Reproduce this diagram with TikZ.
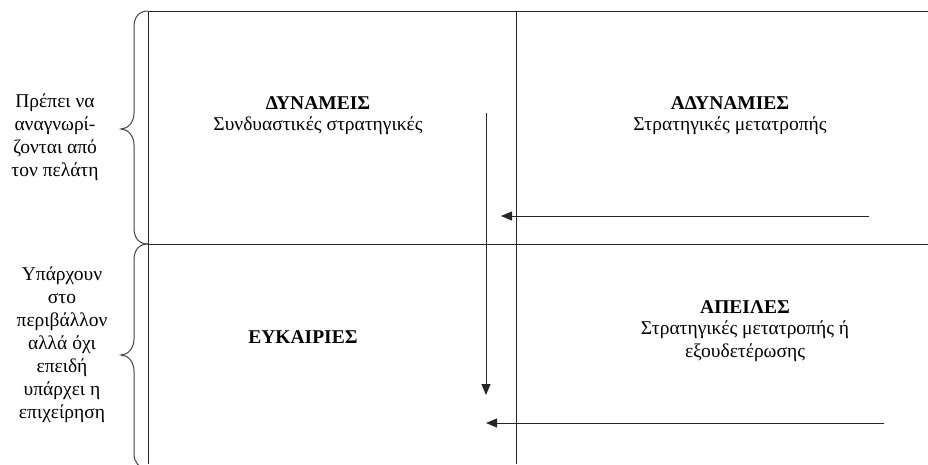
\documentclass[tikz,border=0pt]{standalone}
\usepackage{fontspec}
\setmainfont{Liberation Serif}
\usetikzlibrary{arrows.meta}
\begin{document}
\begin{tikzpicture}[x=1pt,y=-1pt,
  gridline/.style={line width=1pt,draw=black!85},
  bracepath/.style={line width=1pt,draw=black!75},
  flowarrow/.style={line width=1pt,draw=black!85,-{Triangle[length=11pt,width=9pt]}},
  head/.style={font=\fontsize{19.5}{23}\selectfont\bfseries,align=center,inner sep=0pt},
  body/.style={font=\fontsize{19.5}{23}\selectfont,align=center,inner sep=0pt},
  side/.style={font=\fontsize{19.5}{23}\selectfont,align=center,inner sep=0pt}]
\useasboundingbox (0,0) rectangle (928,464);

% table frame
\coordinate (tl) at (148,11);
\coordinate (tr) at (928,11);
\coordinate (tm) at (516,11);
\coordinate (ml) at (148,244);
\coordinate (mr) at (928,244);
\coordinate (bl) at (148,464);
\coordinate (bm) at (516,464);
\draw[gridline] (tl) -- (tr);
\draw[gridline] (tl) -- (bl);
\draw[gridline] (tm) -- (bm);
\draw[gridline] (ml) -- (mr);

% braces on the left
\draw[bracepath] (tl) .. controls (139,11) and (134,17) .. (134,27)
  -- (134,113) .. controls (134,122) and (128,129) .. (121,129)
  .. controls (128,129) and (134,136) .. (134,145)
  -- (134,228) .. controls (134,238) and (139,244) .. (ml);
\draw[bracepath] (ml) .. controls (139,244) and (134,250) .. (134,260)
  -- (134,339) .. controls (134,348) and (128,355) .. (121,355)
  .. controls (128,355) and (134,362) .. (134,371)
  -- (134,454) .. controls (134,462) and (139,468) .. (148,470);

% quadrant labels
\node[head] (s)  at (318,103) {ΔΥΝΑΜΕΙΣ};
\node[body] (s2) at (318,126) {Συνδυαστικές στρατηγικές};
\node[head] (w)  at (730,103) {ΑΔΥΝΑΜΙΕΣ};
\node[body] (w2) at (730,126) {Στρατηγικές μετατροπής};
\node[head] (o)  at (303,337) {ΕΥΚΑΙΡΙΕΣ};
\node[head] (t)  at (745,307) {ΑΠΕΙΛΕΣ};
\node[body] (t2) at (745,341.5) {Στρατηγικές μετατροπής ή\\εξουδετέρωσης};

% side notes
\node[side] (n1) at (55,137.5) {Πρέπει να\\αναγνωρί-\\ζονται από\\τον πελάτη};
\node[side] (n2) at (62,344.5) {Υπάρχουν\\στο\\περιβάλλον\\αλλά όχι\\επειδή\\υπάρχει η\\επιχείρηση};

% arrows
\coordinate (a1s) at (486,113);
\coordinate (a1e) at (486,395);
\coordinate (a2s) at (869,216);
\coordinate (a2e) at (501,216);
\coordinate (a3s) at (884,423);
\coordinate (a3e) at (486,423);
\draw[flowarrow] (a1s) -- (a1e);
\draw[flowarrow] (a2s) -- (a2e);
\draw[flowarrow] (a3s) -- (a3e);
\end{tikzpicture}
\end{document}
